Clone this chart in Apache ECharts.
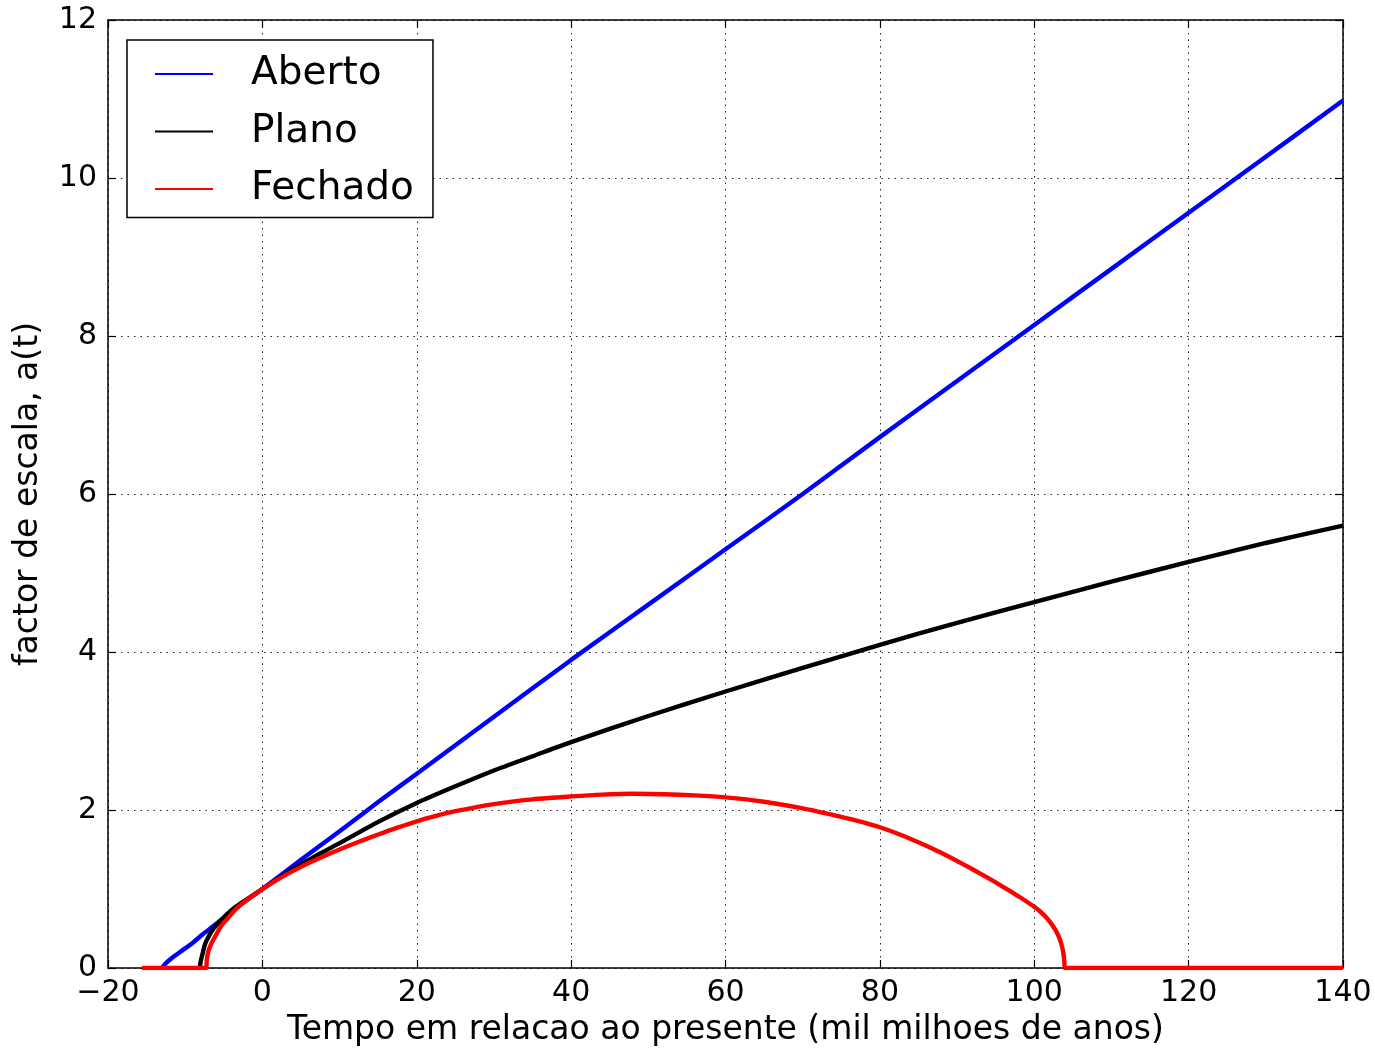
<!DOCTYPE html>
<html>
<head>
<meta charset="utf-8">
<script src="https://cdn.jsdelivr.net/npm/echarts@6/dist/echarts.min.js"></script>
<style>
html,body{margin:0;padding:0;background:#fff;}
#chart{width:1375px;height:1052px;}
</style>
</head>
<body>
<div id="chart"></div>
<script>
// Series names
const seriesNames = ['Aberto', 'Plano', 'Fechado'];
// Axis titles
const xTitle = 'Tempo em relacao ao presente (mil milhoes de anos)';
const yTitle = 'factor de escala, a(t)';
// Axis ranges / ticks
const xTicks = [-20, 0, 20, 40, 60, 80, 100, 120, 140];
const yTicks = [0, 2, 4, 6, 8, 10, 12];

// Open universe (blue): [time, a(t)]
const aberto = [
  [-13.0, 0], [-12.6, 0.05], [-11.8, 0.12], [-10.4, 0.22], [-9, 0.32], [-7.8, 0.42],
  [-6.5, 0.52], [-5.2, 0.62], [-3.9, 0.72], [-2.6, 0.82], [-1.3, 0.91], [0, 1.0],
  [5, 1.37], [10, 1.73], [15, 2.1], [20, 2.46], [30, 3.18], [40, 3.9], [50, 4.6],
  [60, 5.3], [70, 6.0], [80, 6.72], [90, 7.43], [100, 8.14], [110, 8.85],
  [120, 9.56], [130, 10.27], [140, 10.98]
];
// Flat universe (black)
const plano = [
  [-8.1, 0], [-8.0, 0.08], [-7.8, 0.16], [-7.4, 0.31], [-6.9, 0.41], [-6.3, 0.5],
  [-5.2, 0.62], [-3.9, 0.74], [-2, 0.87], [0, 1.0], [2.5, 1.16], [5, 1.31],
  [7.5, 1.45], [10, 1.58], [15, 1.85], [20, 2.09], [25, 2.3], [30, 2.5], [35, 2.68],
  [40, 2.86], [50, 3.19], [60, 3.5], [70, 3.8], [80, 4.09], [90, 4.37], [100, 4.63],
  [110, 4.89], [120, 5.14], [130, 5.38], [140, 5.6]
];
// Closed universe (red)
const fechado = [
  [-15.6, 0], [-7.3, 0], [-7.2, 0.1], [-7.0, 0.21], [-6.6, 0.31], [-6.0, 0.42],
  [-5.2, 0.55], [-4.3, 0.65], [-3.5, 0.74], [-2, 0.86], [0, 1.0], [2.5, 1.15],
  [5, 1.28], [7.5, 1.395], [10, 1.5], [12.5, 1.598], [15, 1.69], [17.5, 1.777],
  [20, 1.857], [22.5, 1.925], [25, 1.985], [30, 2.075], [35, 2.135], [40, 2.172],
  [44, 2.195], [48, 2.205], [52, 2.2], [56, 2.185], [60, 2.16], [65, 2.105],
  [70, 2.02], [74, 1.935], [77, 1.866], [78.5, 1.825], [80, 1.782], [82, 1.712],
  [84, 1.634], [86, 1.548], [88, 1.455], [90, 1.355], [92, 1.25], [94, 1.14],
  [96, 1.025], [98, 0.905], [99, 0.842], [100, 0.775], [100.8, 0.712], [101.5, 0.645],
  [102.1, 0.575], [102.7, 0.49], [103.1, 0.415], [103.4, 0.34], [103.65, 0.25],
  [103.8, 0.17], [103.9, 0.08], [103.95, 0], [140, 0]
];

const colors = ['#0000ff', '#000000', '#ff0000'];
const FONT = 'DejaVu Sans';

function fmtNum(v) { return v < 0 ? '\u2212' + (-v) : String(v); }

const chart = echarts.init(document.getElementById('chart'), null, {renderer: 'canvas'});

const xMin = xTicks[0], xMax = xTicks[xTicks.length - 1], xInt = xTicks[1] - xTicks[0];
const yMin = yTicks[0], yMax = yTicks[yTicks.length - 1], yInt = yTicks[1] - yTicks[0];

const axisLine = {show: true, onZero: false, lineStyle: {color: '#000', width: 1.5}};
const tick = {show: true, inside: true, length: 8, lineStyle: {color: '#000', width: 1.2}};
const split = {show: true, lineStyle: {color: '#222', width: 1, type: [1.5, 5]}};

chart.setOption({
  animation: false,
  backgroundColor: '#fff',
  grid: {left: 108, top: 20, width: 1235, height: 951, containLabel: false},
  legend: {
    left: 127, top: 40,
    orient: 'vertical',
    data: seriesNames,
    icon: 'rect',
    itemWidth: 58, itemHeight: 2,
    itemGap: 18.5,
    padding: [14.5, 19, 9, 28],
    borderColor: '#000', borderWidth: 1.5,
    backgroundColor: '#fff',
    textStyle: {fontFamily: FONT, fontSize: 39, color: '#000', padding: [0, 0, 0, 33]}
  },
  xAxis: [{
    type: 'value', position: 'bottom', min: xMin, max: xMax, interval: xInt,
    axisLine: axisLine, axisTick: tick, splitLine: split,
    axisLabel: {fontFamily: FONT, fontSize: 30, color: '#000', margin: 10, formatter: fmtNum},
    name: xTitle, nameLocation: 'middle', nameGap: 46,
    nameTextStyle: {fontFamily: FONT, fontSize: 33, color: '#000'}
  }, {
    type: 'value', position: 'top', min: xMin, max: xMax, interval: xInt,
    axisLine: axisLine, axisTick: tick, splitLine: {show: false}, axisLabel: {show: false}
  }],
  yAxis: [{
    type: 'value', position: 'left', min: yMin, max: yMax, interval: yInt,
    axisLine: axisLine, axisTick: tick, splitLine: split,
    axisLabel: {fontFamily: FONT, fontSize: 30, color: '#000', margin: 11, formatter: fmtNum},
    name: yTitle, nameLocation: 'middle', nameGap: 63,
    nameTextStyle: {fontFamily: FONT, fontSize: 33, color: '#000'}
  }, {
    type: 'value', position: 'right', min: yMin, max: yMax, interval: yInt,
    axisLine: axisLine, axisTick: tick, splitLine: {show: false}, axisLabel: {show: false}
  }],
  series: [aberto, plano, fechado].map((d, i) => ({
    name: seriesNames[i],
    type: 'line',
    data: d,
    xAxisIndex: 0, yAxisIndex: 0,
    showSymbol: false, symbol: 'none',
    smooth: 0.25,
    lineStyle: {color: colors[i], width: 4.4},
    itemStyle: {color: colors[i]},
    z: 2 + i
  }))
});
</script>
</body>
</html>
